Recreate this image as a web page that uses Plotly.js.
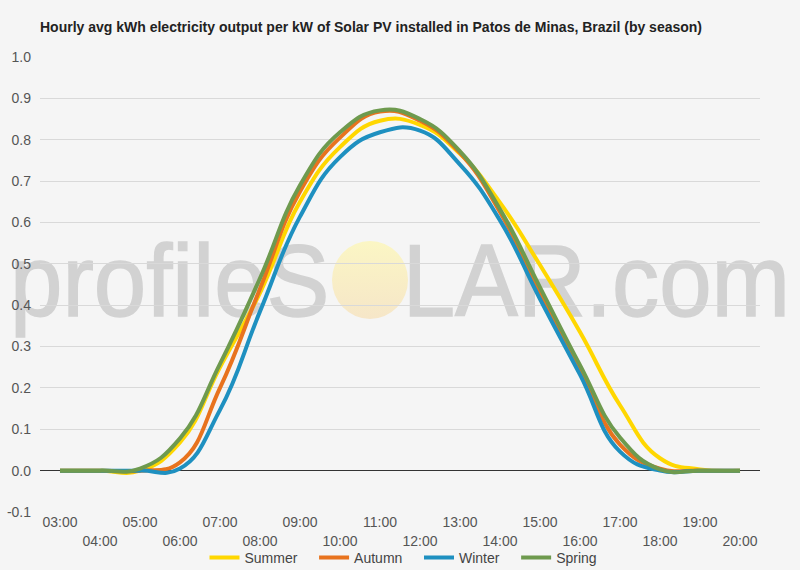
<!DOCTYPE html>
<html>
<head>
<meta charset="utf-8">
<script src="https://cdn.plot.ly/plotly-3.0.1.min.js"></script>
<style>
  html, body { margin:0; padding:0; background:#f5f5f5; }
  #wrap { position:relative; width:800px; height:570px; }
  #wm { position:absolute; left:0; top:0; width:800px; height:570px; z-index:0; }
  #chart { position:absolute; left:0; top:0; width:800px; height:570px; z-index:1; }
</style>
</head>
<body>
<div id="wrap">
  <svg id="wm" width="800" height="570" xmlns="http://www.w3.org/2000/svg">
    <defs>
      <linearGradient id="sun" x1="0" y1="0" x2="0" y2="1">
        <stop offset="0" stop-color="#fbf6c4"/>
        <stop offset="1" stop-color="#f6e6c8"/>
      </linearGradient>
    </defs>
    <ellipse cx="370" cy="280" rx="38" ry="39" fill="url(#sun)"/>
    <text x="10" y="316" font-family="Liberation Sans, Arial, sans-serif" font-size="102"
          fill="#d2d2d2" stroke="#d2d2d2" stroke-width="1.5" textLength="780" lengthAdjust="spacingAndGlyphs">profileS<tspan fill-opacity="0" stroke-opacity="0">O</tspan>LAR.com</text>
  </svg>
  <div id="chart"></div>
</div>
<script>
const hours = [3,4,5,6,7,8,9,10,11,12,13,14,15,16,17,18,19,20];
const hourLabels = ["03:00","04:00","05:00","06:00","07:00","08:00","09:00","10:00","11:00","12:00","13:00","14:00","15:00","16:00","17:00","18:00","19:00","20:00"];
const summer = [0,0,0,0.068,0.25,0.43,0.65,0.782,0.846,0.836,0.766,0.648,0.497,0.335,0.158,0.03,0.003,0];
const autumn = [0,0,0,0.02,0.20,0.44,0.675,0.805,0.868,0.846,0.768,0.625,0.43,0.25,0.063,0.005,0,0];
const winter = [0,0,0,0.005,0.147,0.385,0.614,0.758,0.818,0.822,0.74,0.605,0.415,0.232,0.046,0,0,0];
const spring = [0,0,0.005,0.078,0.258,0.465,0.69,0.818,0.871,0.85,0.772,0.632,0.443,0.255,0.08,0.003,0,0];
const seriesNames = ["Summer","Autumn","Winter","Spring"];
const seriesColors = ["#FFD700","#E8731E","#1E90C0","#6E9A4E"];
const yTicks = [-0.1,0,0.1,0.2,0.3,0.4,0.5,0.6,0.7,0.8,0.9,1.0];

const allSeries = [summer, autumn, winter, spring];
const pad = '\u00a0\u00a0\u00a0';
const traces = allSeries.map((vals, i) => ({
  x: hours, y: vals, name: seriesNames[i] + pad, type: 'scatter', mode: 'lines',
  line: {color: seriesColors[i], width: 4, shape: 'spline', smoothing: 1.3},
  hoverinfo: 'skip'
}));
// invisible trace on second x axis for the staggered even-hour labels
traces.push({x: hours, y: hours.map(() => null), xaxis: 'x2', showlegend: false, hoverinfo: 'skip', mode: 'lines'});

const oddIdx = hours.map((h,i)=>i).filter(i => i % 2 === 0);
const evenIdx = hours.map((h,i)=>i).filter(i => i % 2 === 1);

const font = "Liberation Sans, Arial, sans-serif";
const layout = {
  width: 800, height: 570,
  paper_bgcolor: 'rgba(0,0,0,0)', plot_bgcolor: 'rgba(0,0,0,0)',
  margin: {l: 40, r: 40, t: 57, b: 58, autoexpand: false},
  font: {family: font, size: 14, color: '#555'},
  title: {text: '<b>Hourly avg kWh electricity output per kW of Solar PV installed in Patos de Minas, Brazil (by season)</b>',
          x: 0, xanchor: 'left', xref: 'paper', y: 1 - 27/570, yanchor: 'middle',
          font: {family: font, size: 14, color: '#222'}},
  xaxis: {range: [2.5, 20.5], tickvals: oddIdx.map(i => hours[i]), ticktext: oddIdx.map(i => hourLabels[i]),
          showgrid: false, zeroline: false, showline: false, ticks: '', ticklabelstandoff: 0,
          tickfont: {size: 14, color: '#555'}, fixedrange: true},
  xaxis2: {range: [2.5, 20.5], overlaying: 'x', anchor: 'y', side: 'bottom',
           tickvals: evenIdx.map(i => hours[i]), ticktext: evenIdx.map(i => hourLabels[i]),
           showgrid: false, zeroline: false, showline: false, ticks: '', ticklabelstandoff: 19,
           tickfont: {size: 14, color: '#555'}, fixedrange: true},
  yaxis: {range: [-0.1, 1.0], tickvals: yTicks, ticktext: yTicks.map(v => v.toFixed(1)),
          showgrid: true, gridcolor: '#d9d9d9', gridwidth: 1,
          zeroline: true, zerolinecolor: '#333', zerolinewidth: 1,
          showline: false, ticks: '', ticklabelstandoff: 8,
          tickfont: {size: 14, color: '#555'}, fixedrange: true},
  showlegend: true,
  legend: {orientation: 'h', x: 0.5 + 9/720, xanchor: 'center', y: -46/455, yanchor: 'middle',
           font: {size: 14, color: '#444'}, bgcolor: 'rgba(0,0,0,0)', itemwidth: 30},
};
Plotly.newPlot('chart', traces, layout, {displayModeBar: false, staticPlot: true});
</script>
</body>
</html>
